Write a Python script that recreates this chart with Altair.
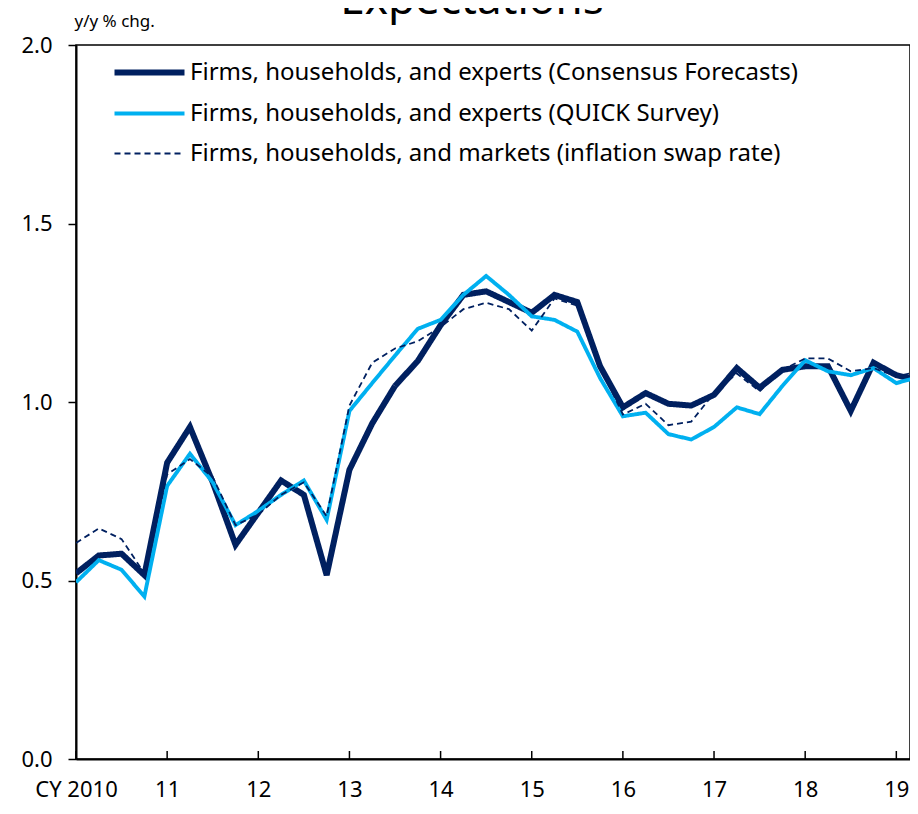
import altair as alt
import pandas as pd

# quarterly index: 0 = CY2010 Q1
consensus = [0.52, 0.57, 0.575, 0.515, 0.83, 0.93, 0.775, 0.60, 0.69, 0.78, 0.74, 0.515,
             0.81, 0.94, 1.045, 1.115, 1.215, 1.30, 1.31, 1.28, 1.25, 1.30, 1.28, 1.10,
             0.985, 1.025, 0.995, 0.99, 1.02, 1.095, 1.04, 1.09, 1.10, 1.10, 0.975, 1.11,
             1.075, 1.06]
quick = [0.495, 0.557, 0.53, 0.455, 0.765, 0.855, 0.775, 0.655, 0.695, 0.74, 0.78, 0.67,
         0.975, 1.053, 1.13, 1.205, 1.23, 1.30, 1.353, 1.30, 1.24, 1.23, 1.197, 1.067,
         0.96, 0.97, 0.91, 0.895, 0.93, 0.985, 0.966, 1.045, 1.117, 1.086, 1.075, 1.095,
         1.053, 1.07]
swap = [0.605, 0.646, 0.616, 0.52, 0.797, 0.84, 0.79, 0.655, 0.685, 0.74, 0.775, 0.68,
        0.99, 1.11, 1.15, 1.17, 1.21, 1.26, 1.278, 1.26, 1.20, 1.29, 1.27, 1.10,
        0.965, 0.995, 0.935, 0.945, 1.025, 1.08, 1.03, 1.09, 1.122, 1.122, 1.086, 1.095,
        1.072, 1.085]

series_names = [
    "Firms, households, and experts (Consensus Forecasts)",
    "Firms, households, and experts (QUICK Survey)",
    "Firms, households, and markets (inflation swap rate)",
]
year_ticks = [0, 4, 8, 12, 16, 20, 24, 28, 32, 36]
y_ticks = [0.0, 0.5, 1.0, 1.5, 2.0]

rows = []
for name, vals in zip(series_names, [consensus, quick, swap]):
    for i, v in enumerate(vals):
        rows.append({"q": i, "value": v, "series": name})
df = pd.DataFrame(rows)
ticks_df = pd.DataFrame({"q": year_ticks})

FONT = "Noto Sans"
NAVY = "#002060"
LBLUE = "#00B0F0"
W, H = 834, 714

x_scale = alt.Scale(domain=[0, 36.6], nice=False, zero=False)
y_scale = alt.Scale(domain=[0, 2], nice=False)

lines = alt.Chart(df).mark_line(clip=True).encode(
    x=alt.X("q:Q", scale=x_scale,
            axis=alt.Axis(values=year_ticks, title=None, ticks=False, grid=False,
                          labelExpr="datum.value == 0 ? 'CY 2010' : toString(10 + datum.value / 4)",
                          labelFontSize=22, labelFont=FONT, labelColor="black",
                          labelPadding=20, domainColor="black", domainWidth=2,
                          labelFlush=False)),
    y=alt.Y("value:Q", scale=y_scale,
            axis=alt.Axis(values=y_ticks, format=".1f", grid=False,
                          title="y/y % chg.", titleAngle=0, titleAlign="left",
                          titleBaseline="alphabetic", titleX=-2, titleY=-19,
                          titleFontSize=17, titleFontWeight="normal", titleFont=FONT,
                          titleColor="black",
                          labelFontSize=22, labelFont=FONT, labelColor="black",
                          labelPadding=16, tickSize=8, tickColor="black", tickWidth=1.5,
                          domainColor="black", domainWidth=2)),
    color=alt.Color("series:N",
                    scale=alt.Scale(domain=series_names, range=[NAVY, LBLUE, NAVY]),
                    legend=alt.Legend(title=None, orient="none", legendX=53, legendY=7,
                                      symbolType="M-2,0L2,0", symbolSize=1225,
                                      labelFontSize=24, labelFont=FONT, labelColor="black",
                                      labelLimit=800, rowPadding=9, labelOffset=20,
                                      symbolStrokeWidth=2)),
    strokeWidth=alt.StrokeWidth("series:N",
                                scale=alt.Scale(domain=series_names, range=[6, 1.8, 1.8]),
                                legend=None),
    strokeDash=alt.StrokeDash("series:N",
                              scale=alt.Scale(domain=series_names,
                                              range=[[1, 0], [1, 0], [6, 4]]),
                              legend=None),
    order=alt.Order("q:Q"),
)

# inward ticks on the bottom axis
tick_layer = alt.Chart(ticks_df).mark_rule(color="black", strokeWidth=1.5).encode(
    x=alt.X("q:Q", scale=x_scale),
    y=alt.value(H),
    y2=alt.value(H - 8),
)

title_df = pd.DataFrame({"t": ["Expectations"]})
title = alt.Chart(title_df).mark_text(
    font=FONT, fontSize=44, color="black", align="center", baseline="alphabetic"
).encode(x=alt.value(396), y=alt.value(-31), text="t:N")

chart = alt.layer(lines, tick_layer, title).properties(
    width=W, height=H,
    autosize=alt.AutoSizeParams(type="none"),
    padding={"left": 68, "top": 37, "right": 0, "bottom": 47},
).configure_view(stroke="black", strokeWidth=1.5)

chart.save("out.html", embed_options={"renderer": "svg", "actions": False})
